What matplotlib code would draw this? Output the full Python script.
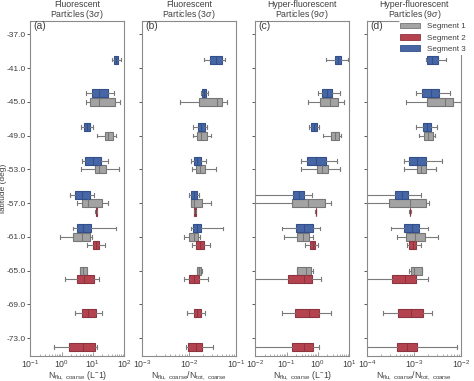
import matplotlib
matplotlib.use("Agg")
import matplotlib.pyplot as plt
from matplotlib.patches import Patch
from matplotlib.ticker import LogLocator, NullFormatter

plt.rcParams['font.family'] = ['Liberation Sans', 'DejaVu Sans']
plt.rcParams['mathtext.fontset'] = 'custom'
plt.rcParams['mathtext.rm'] = 'Liberation Sans'
plt.rcParams['mathtext.it'] = 'Liberation Sans:italic'

# ---------------- data ----------------
# latitude bins (deg) for each segment
lat_seg1 = [-45, -49, -53, -57, -61, -65]
lat_seg2 = [-57, -61, -65, -69, -73]
lat_seg3 = [-41, -45, -49, -53, -57, -61]

# box stats: (whisker low, Q1, median, Q3, whisker high)
# (a) Fluorescent particles, N_flu,coarse (L^-1)
a_seg1 = [(5.83, 8.22, 15.2, 52.8, 76.4), (13.1, 23.6, 31.6, 42.5, 54.2),
          (4.04, 11.3, 15.9, 25.4, 67.6), (3.01, 4.57, 6.92, 19.9, 30.1),
          (0.906, 2.30, 4.57, 7.83, 9.29), (3.75, 3.94, 4.91, 6.28, 6.59)]
a_seg2 = [(12.0, 12.2, 12.7, 13.2, 13.4), (6.44, 10.3, 12.8, 15.2, 24.8),
          (1.31, 3.16, 5.16, 10.8, 15.2), (2.60, 4.57, 7.24, 12.5, 19.4),
          (0.569, 1.67, 5.01, 11.3, 13.4)]
a_seg3 = [(41.4, 46.8, 55.6, 65.9, 78.3), (5.83, 9.29, 15.8, 30.1, 49.1),
          (4.25, 5.16, 6.31, 8.22, 10.3), (4.46, 5.69, 10.0, 17.6, 30.1),
          (1.85, 2.60, 4.47, 8.02, 10.8), (2.24, 3.01, 5.01, 8.85, 55.6)]

# (b) Fluorescent particles, N_flu,coarse / N_tot,coarse
b_seg1 = [(0.00627, 0.0162, 0.0386, 0.0494, 0.0653), (0.0123, 0.0149, 0.0182, 0.0237, 0.0297),
          (0.0117, 0.0140, 0.0170, 0.0218, 0.0380), (0.0108, 0.0111, 0.0127, 0.0191, 0.0292),
          (0.00789, 0.0101, 0.0127, 0.0157, 0.0170), (0.0145, 0.0149, 0.0162, 0.0179, 0.0185)]
b_seg2 = [(0.0124, 0.0125, 0.0132, 0.0140, 0.0141), (0.0117, 0.0142, 0.0170, 0.0207, 0.0283),
          (0.00789, 0.0101, 0.0127, 0.0162, 0.0256), (0.00914, 0.0127, 0.0149, 0.0179, 0.0221),
          (0.00841, 0.00960, 0.0138, 0.0191, 0.0323)]
b_seg3 = [(0.0211, 0.0279, 0.0372, 0.0494, 0.0573), (0.0182, 0.0191, 0.0207, 0.0225, 0.0256),
          (0.0123, 0.0152, 0.0182, 0.0218, 0.0244), (0.0111, 0.0125, 0.0148, 0.0176, 0.0233),
          (0.00991, 0.0108, 0.0126, 0.0145, 0.0165), (0.0111, 0.0123, 0.0148, 0.0179, 0.0519)]

# (c) Hyper-fluorescent particles, N_flu,coarse (L^-1)
c_seg1 = [(0.493, 1.14, 2.39, 4.55, 6.92), (1.43, 2.64, 3.47, 4.67, 5.68),
          (0.294, 0.938, 1.36, 2.17, 5.27), (0.005, 0.144, 0.470, 1.66, 2.64),
          (0.0855, 0.219, 0.333, 0.506, 0.714), (0.214, 0.219, 0.415, 0.586, 0.714)]
c_seg2 = [(0.84, 0.845, 0.855, 0.865, 0.875), (0.385, 0.573, 0.676, 0.809, 1.01),
          (0.005, 0.112, 0.363, 0.664, 1.26), (0.0738, 0.184, 0.525, 1.11, 2.71),
          (0.005, 0.144, 0.349, 0.714, 1.11)]
c_seg3 = [(1.87, 3.64, 4.47, 5.68, 9.08), (1.01, 1.39, 2.0, 2.92, 5.15),
          (0.532, 0.601, 0.741, 0.914, 1.09), (0.287, 0.437, 0.891, 1.82, 4.02),
          (0.005, 0.163, 0.251, 0.367, 0.664), (0.0738, 0.198, 0.372, 0.681, 1.20)]

# (d) Hyper-fluorescent particles, N_flu,coarse / N_tot,coarse
d_seg1 = [(0.000681, 0.00185, 0.00441, 0.00675, 0.00984), (0.00127, 0.00160, 0.00200, 0.00248, 0.00274),
          (0.000607, 0.00113, 0.00142, 0.00179, 0.00292), (0.00005, 0.000290, 0.000815, 0.00176, 0.00211),
          (0.000423, 0.000670, 0.00106, 0.00170, 0.00318), (0.000789, 0.000855, 0.00100, 0.00145, 0.00146)]
d_seg2 = [(0.00079, 0.00080, 0.00081, 0.00083, 0.00084), (0.000714, 0.000776, 0.000933, 0.00111, 0.00140),
          (0.00005, 0.000337, 0.000631, 0.00109, 0.00197), (0.000216, 0.000459, 0.000851, 0.00155, 0.00237),
          (0.00005, 0.000430, 0.000708, 0.00113, 0.00822)]
d_seg3 = [(0.00179, 0.00185, 0.00240, 0.00313, 0.00471), (0.00108, 0.00145, 0.00224, 0.00344, 0.00573),
          (0.00108, 0.00155, 0.00191, 0.00229, 0.00308), (0.000617, 0.000776, 0.00117, 0.00179, 0.00393),
          (0.00005, 0.000384, 0.000537, 0.000750, 0.00136), (0.000320, 0.000607, 0.000891, 0.00129, 0.00194)]

lat_ticks = [-37, -41, -45, -49, -53, -57, -61, -65, -69, -73]
panel_labels = ['(a)', '(b)', '(c)', '(d)']
titles = ['Fluorescent\nParticles (3$\\sigma$)', 'Fluorescent\nParticles (3$\\sigma$)',
          'Hyper-fluorescent\nParticles (9$\\sigma$)', 'Hyper-fluorescent\nParticles (9$\\sigma$)']
xlabel_conc = 'N$_{\\rm flu,\\ coarse}$ (L$^{-}$1)'
xlabel_frac = 'N$_{\\rm flu,\\ coarse}$/N$_{\\rm tot,\\ coarse}$'
xlabels = [xlabel_conc, xlabel_frac, xlabel_conc, xlabel_frac]
xlims = [(1e-1, 1e2), (1e-3, 1e-1), (1e-2, 1e1), (1e-4, 1e-2)]
seg_names = ['Segment 1', 'Segment 2', 'Segment 3']

# ---------------- style ----------------
face = {1: '#a3a3a3', 2: '#b5434f', 3: '#4766a6'}
edge = {1: '#767676', 2: '#8c3440', 3: '#34508a'}
offset = {1: 0.0, 2: -1.0, 3: 1.0}
txt = '#404040'
spine_c = '#8a8a8a'
fs = 6.3

fig = plt.figure(figsize=(4.74, 3.81), dpi=100)
lefts = [0.0639, 0.300, 0.5386, 0.775]
w, b0, h = 0.198, 0.0656, 0.880

panels = [(a_seg1, a_seg2, a_seg3), (b_seg1, b_seg2, b_seg3),
          (c_seg1, c_seg2, c_seg3), (d_seg1, d_seg2, d_seg3)]
lat_lists = {1: lat_seg1, 2: lat_seg2, 3: lat_seg3}

for i, (segs, left) in enumerate(zip(panels, lefts)):
    ax = fig.add_axes([left, b0, w, h])
    ax.set_xscale('log')
    for s, data in zip([1, 2, 3], segs):
        stats = [dict(whislo=v[0], q1=v[1], med=v[2], q3=v[3], whishi=v[4], fliers=[])
                 for v in data]
        pos = [lt + offset[s] for lt in lat_lists[s]]
        ax.bxp(stats, positions=pos, widths=0.95, vert=False, patch_artist=True,
               showfliers=False, manage_ticks=False,
               boxprops=dict(facecolor=face[s], edgecolor=edge[s], linewidth=0.8),
               medianprops=dict(color=edge[s], linewidth=0.8),
               whiskerprops=dict(color='#7a7a7a', linewidth=0.8),
               capprops=dict(color='#7a7a7a', linewidth=0.8),
               capwidths=0.45)
    ax.set_xlim(*xlims[i])
    ax.set_ylim(-75.1, -35.4)
    ax.set_yticks(lat_ticks)
    if i == 0:
        ax.set_yticklabels(['%.1f' % t for t in lat_ticks])
        ax.set_ylabel('latitude (deg)', color=txt, fontsize=6)
        ax.yaxis.set_label_coords(-0.248, 0.5)
    else:
        ax.set_yticklabels([])
    ax.xaxis.set_major_locator(LogLocator(base=10, numticks=10))
    ax.xaxis.set_minor_locator(LogLocator(base=10, subs=range(2, 10), numticks=20))
    ax.xaxis.set_minor_formatter(NullFormatter())
    ax.tick_params(axis='x', which='both', direction='in', colors=spine_c,
                   labelcolor=txt, labelsize=fs, pad=1.5)
    ax.tick_params(axis='x', which='major', length=3, width=0.6)
    ax.tick_params(axis='x', which='minor', length=1.5, width=0.5)
    ax.tick_params(axis='y', direction='out', length=2.5, width=0.6, colors=txt,
                   labelsize=6, pad=1)
    for sp in ax.spines.values():
        sp.set_color(spine_c)
        sp.set_linewidth(0.8)
    ax.set_xlabel(xlabels[i], color=txt, fontsize=fs, labelpad=0)
    ax.set_title(titles[i], color=txt, fontsize=fs, pad=1, linespacing=0.9)
    ax.text(0.03, 0.998, panel_labels[i], transform=ax.transAxes, ha='left', va='top',
            fontsize=7.5, color=txt)
    if i == 3:
        handles = [Patch(facecolor=face[s], edgecolor=edge[s], linewidth=0.6) for s in [1, 2, 3]]
        leg = ax.legend(handles, seg_names, loc='upper right', bbox_to_anchor=(1.07, 1.0),
                        fontsize=5.8, frameon=True, framealpha=1, edgecolor='none',
                        handlelength=2.4, handleheight=0.7, labelspacing=0.45,
                        borderpad=0.2, handletextpad=0.9, borderaxespad=0.05)
        for t in leg.get_texts():
            t.set_color(txt)

fig.savefig('out.png', dpi=100)
